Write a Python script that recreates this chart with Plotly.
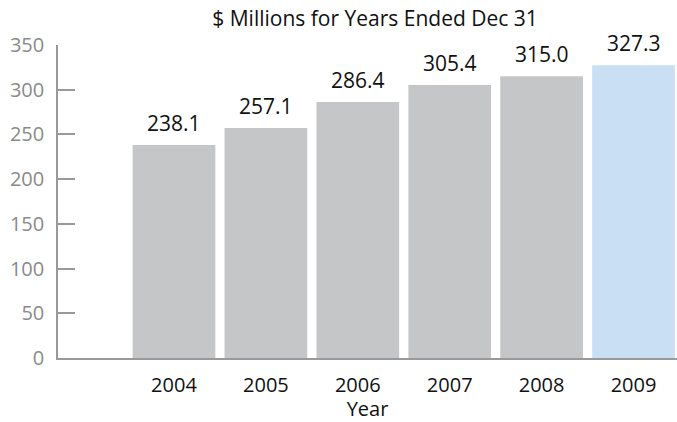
import plotly.graph_objects as go

years = ["2004", "2005", "2006", "2007", "2008", "2009"]
values = [238.1, 257.1, 286.4, 305.4, 315.0, 327.3]
labels = ["238.1", "257.1", "286.4", "305.4", "315.0", "327.3"]
colors = ["#c5c6c7"] * 5 + ["#c9dff3"]

FONT = "Open Sans, Lato, sans-serif"

fig = go.Figure(go.Bar(
    x=years, y=values,
    marker=dict(color=colors, line=dict(width=0)),
    width=0.9, cliponaxis=False,
    hoverinfo="skip",
))

# value labels above bars (category index positions on the category axis)
for i, (v, lab) in enumerate(zip(values, labels)):
    fig.add_annotation(x=i, y=v, xref="x", yref="y", text=lab, showarrow=False,
                       xanchor="center", yanchor="bottom", yshift=6,
                       font=dict(family=FONT, size=21, color="#111"))

fig.update_layout(
    width=677, height=422,
    margin=dict(l=58, r=0, t=45, b=64, autoexpand=False),
    plot_bgcolor="white", paper_bgcolor="white",
    showlegend=False,
    font=dict(family=FONT),
    title=dict(text="$ Millions for Years Ended Dec 31", x=0.554, xanchor="center",
               y=0.955, yanchor="middle",
               font=dict(size=21, color="#111")),
)
fig.update_xaxes(
    type="category", range=[-1.262, 5.473], automargin=False,
    showline=True, linecolor="#999", linewidth=1.5,
    ticks="", showgrid=False,
    tickfont=dict(size=20, color="#111"),
    ticklabelstandoff=8,
    title=dict(text="Year", font=dict(size=20, color="#111"), standoff=1),
)
fig.update_yaxes(
    range=[0, 350], tickvals=[0, 50, 100, 150, 200, 250, 300, 350], automargin=False,
    showline=True, linecolor="#999", linewidth=1.5,
    ticks="inside", ticklen=17, tickcolor="#999", tickwidth=1.5,
    showgrid=False, zeroline=False,
    tickfont=dict(size=20, color="#8a8a8a"),
    ticklabelstandoff=8,
)

fig.write_html("out.html", config={"displayModeBar": False},
               post_script="document.body.style.margin='0';")
